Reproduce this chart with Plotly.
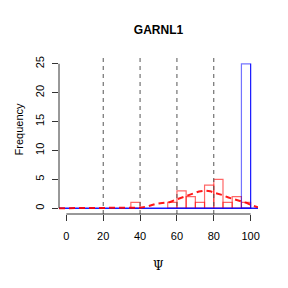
import plotly.graph_objects as go

# Data
bin_starts = [35, 40, 45, 50, 55, 60, 65, 70, 75, 80, 85, 90, 95]
red_counts = [1, 0, 0, 0, 1, 3, 2, 1, 4, 5, 1, 2, 1]
blue_starts = [95]
blue_counts = [25]
bin_width = 5
dens_x = [-4, 30, 36, 40, 44, 48, 52, 56, 60, 64, 68, 72, 75, 78, 81, 85, 88, 92, 95, 98, 101, 104]
dens_y = [0, 0, 0.03, 0.1, 0.3, 0.7, 0.9, 1.05, 1.55, 2.0, 2.55, 2.9, 3.05, 2.95, 2.6, 2.25, 1.85, 1.45, 1.1, 0.9, 0.45, 0.15]
blue_base_x = [-4, 104]
blue_base_y = [0, 0]
vlines = [20, 40, 60, 80]
x_ticks = [0, 20, 40, 60, 80, 100]
y_ticks = [0, 5, 10, 15, 20, 25]
title = "GARNL1"

fig = go.Figure()

fig.add_trace(go.Scatter(x=blue_base_x, y=blue_base_y, mode="lines",
                         line=dict(color="rgba(0,0,255,0.9)", width=1.5),
                         hoverinfo="skip"))

rx = [s + bin_width / 2 for s, c in zip(bin_starts, red_counts) if c > 0]
ry = [c for c in red_counts if c > 0]
fig.add_trace(go.Bar(x=rx, y=ry, width=bin_width,
                     marker=dict(color="rgba(0,0,0,0)",
                                 line=dict(color="rgba(255,0,0,0.6)", width=1.2))))
bx = [s + bin_width / 2 for s in blue_starts]
fig.add_trace(go.Bar(x=bx, y=blue_counts, width=bin_width,
                     marker=dict(color="rgba(0,0,0,0)",
                                 line=dict(color="rgba(0,0,255,0.55)", width=1.2))))
# right edge of blue bar (stronger)
fig.add_trace(go.Scatter(x=[blue_starts[0] + bin_width] * 2, y=[0, blue_counts[0]], mode="lines",
                         line=dict(color="rgba(0,0,255,0.85)", width=1), hoverinfo="skip"))

fig.add_trace(go.Scatter(x=dens_x, y=dens_y, mode="lines",
                         line=dict(color="rgba(255,0,0,0.9)", width=2, dash="6px,4px"),
                         hoverinfo="skip"))

shapes = []
for v in vlines:
    shapes.append(dict(type="line", xref="x", yref="paper", x0=v, x1=v, y0=0, y1=1,
                       line=dict(color="#555555", width=1, dash="4px,4px")))
shapes.append(dict(type="line", xref="paper", yref="y", x0=0, x1=0, y0=0, y1=25,
                   line=dict(color="#333333", width=1)))
shapes.append(dict(type="line", xref="x", yref="paper", x0=0, x1=100, y0=0, y1=0,
                   line=dict(color="#333333", width=1)))

fig.update_layout(
    width=288, height=288,
    margin=dict(l=59, r=30, t=58, b=74, pad=0),
    paper_bgcolor="white", plot_bgcolor="white",
    showlegend=False, barmode="overlay",
    shapes=shapes,
    font=dict(family="Liberation Sans, Arial, sans-serif", size=11, color="black"),
    title=dict(text="<b>" + title + "</b>", x=0.5, xref="paper", y=1 - 30 / 288,
               yref="container", xanchor="center", yanchor="middle",
               font=dict(size=12, color="black")),
    xaxis=dict(range=[-4, 104], tickvals=x_ticks, ticktext=[str(t) for t in x_ticks],
               showgrid=False, zeroline=False, showline=False, ticks="outside",
               ticklen=6, tickcolor="#333333", ticklabelstandoff=6),
    yaxis=dict(range=[-1, 26], tickvals=y_ticks, ticktext=[str(t) for t in y_ticks],
               showgrid=False, zeroline=False, showline=False, ticks="outside",
               ticklen=6, tickcolor="#333333", tickangle=-90, ticklabelstandoff=4),
    annotations=[
        dict(text="Frequency", xref="paper", yref="paper", x=(19 - 59) / 198.6,
             y=(214.5 - 130) / 156.1, textangle=-90, showarrow=False,
             xanchor="center", yanchor="middle", font=dict(size=11)),
        dict(text="Ψ", xref="paper", yref="paper", x=0.5, y=(214.5 - 267) / 156.1,
             showarrow=False, xanchor="center", yanchor="middle",
             font=dict(size=12, family="DejaVu Serif")),
    ],
)

fig.write_html("out.html")
